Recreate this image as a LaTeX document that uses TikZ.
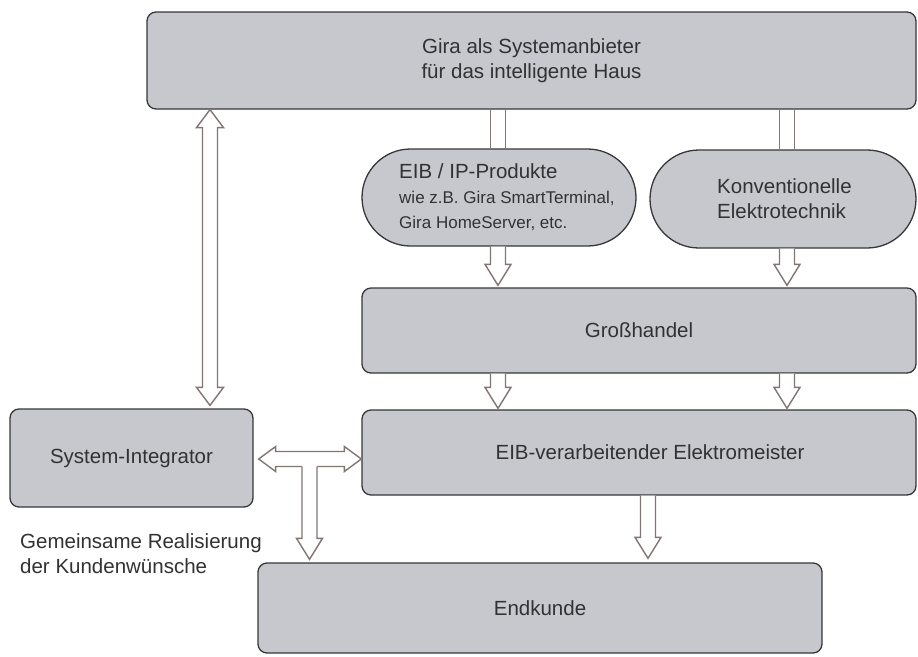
\documentclass[tikz,border=0pt]{standalone}
\usepackage{fontspec}
\setmainfont{Liberation Sans}
\usetikzlibrary{shapes.misc,calc}
\definecolor{boxfill}{RGB}{198,200,205}
\definecolor{boxline}{RGB}{55,55,58}
\definecolor{arrline}{RGB}{128,118,115}
\definecolor{txt}{RGB}{50,50,52}
\newcommand\mainsz{\fontsize{20.5}{25}\selectfont}
\newcommand\smallsz{\fontsize{17}{20}\selectfont}
% hollow down arrow: #1 start (top), #2 tip (bottom)
\newcommand\arrdown[2]{%
  \filldraw[harrow] ([xshift=-7.5pt]#1) -- ([xshift=-7.5pt,yshift=21pt]#2) -- ([xshift=-13pt,yshift=21pt]#2) -- (#2) -- ([xshift=13pt,yshift=21pt]#2) -- ([xshift=7.5pt,yshift=21pt]#2) -- ([xshift=7.5pt]#1);}
\newcommand\shaftonly[2]{%
  \draw[harrow] ([xshift=-7.5pt]#1) -- ([xshift=-7.5pt]#2) ([xshift=7.5pt]#1) -- ([xshift=7.5pt]#2);}
\begin{document}
\begin{tikzpicture}[x=1pt,y=-1pt,
  box/.style={draw=boxline,fill=boxfill,line width=1.3pt,rounded corners=9pt,inner sep=0pt,text=txt,font=\mainsz,align=center},
  pill/.style={rounded rectangle,draw=boxline,fill=boxfill,line width=1.3pt,inner sep=0pt},
  lbl/.style={inner sep=0pt,text=txt,font=\mainsz,align=left},
  harrow/.style={draw=arrline,fill=white,line width=1.4pt,line join=miter}]
\useasboundingbox (0,0) rectangle (918,656);

% boxes
\node[box,minimum width=769pt,minimum height=97pt] (T) at (531.5,60.5) {Gira als Systemanbieter\\für das intelligente Haus};
\node[pill,minimum width=274pt,minimum height=97pt] (P1) at (499,197.5) {};
\node[lbl,anchor=west] (P1t) at (399,197.5) {EIB / IP-Produkte\\{\smallsz wie z.B. Gira SmartTerminal,}\\{\smallsz Gira HomeServer, etc.}};
\node[pill,minimum width=266pt,minimum height=98pt] (P2) at (783,199) {};
\node[lbl,anchor=west] (P2t) at (717,199) {Konventionelle\\Elektrotechnik};
\node[box,minimum width=554pt,minimum height=85pt] (G) at (639,330.5) {Großhandel};
\node[box,minimum width=554pt,minimum height=85pt] (E) at (639,452.5) {};
\node[lbl] (Et) at (650,452.5) {EIB-verarbeitender Elektromeister};
\node[box,minimum width=243pt,minimum height=98pt] (S) at (131.5,458) {System-Integrator};
\node[box,minimum width=564pt,minimum height=90pt] (K) at (540,608) {Endkunde};
\node[lbl,anchor=north west] (note) at (20,533) {Gemeinsame Realisierung\\der Kundenwünsche};

% reference x positions
\coordinate (xl) at (498,0);
\coordinate (xr) at (787,0);
\coordinate (xk) at (648,0);
\coordinate (xs) at (210,0);

% shafts top box -> pills
\coordinate (a1s) at (xl |- T.south);
\coordinate (a1e) at (xl |- P1.north);
\shaftonly{a1s}{a1e}
\coordinate (a2s) at (xr |- T.south);
\coordinate (a2e) at (xr |- P2.north);
\shaftonly{a2s}{a2e}

% pills -> Grosshandel
\coordinate (a3s) at (xl |- P1.south);
\coordinate (a3e0) at (xl |- G.north);
\coordinate (a3e) at ([yshift=2pt]a3e0);
\arrdown{a3s}{a3e}
\coordinate (a4s) at (xr |- P2.south);
\coordinate (a4e0) at (xr |- G.north);
\coordinate (a4e) at ([yshift=2pt]a4e0);
\arrdown{a4s}{a4e}

% Grosshandel -> Elektromeister
\coordinate (a5s) at (xl |- G.south);
\coordinate (a5e0) at (xl |- E.north);
\coordinate (a5e) at ([yshift=1pt]a5e0);
\arrdown{a5s}{a5e}
\coordinate (a6s) at (xr |- G.south);
\coordinate (a6e0) at (xr |- E.north);
\coordinate (a6e) at ([yshift=1pt]a6e0);
\arrdown{a6s}{a6e}

% Elektromeister -> Endkunde
\coordinate (a7s) at (xk |- E.south);
\coordinate (a7e0) at (xk |- K.north);
\coordinate (a7e) at ([yshift=4pt]a7e0);
\arrdown{a7s}{a7e}

% double vertical: top box <-> System-Integrator
\coordinate (vt) at (xs |- T.south);
\coordinate (vb0) at (xs |- S.north);
\coordinate (vb) at ([yshift=3pt]vb0);
\filldraw[harrow] (vt) -- ([xshift=13.5pt,yshift=-18pt]vt) -- ([xshift=7.5pt,yshift=-18pt]vt)
  -- ([xshift=7.5pt,yshift=18pt]vb) -- ([xshift=13.5pt,yshift=18pt]vb) -- (vb)
  -- ([xshift=-13.5pt,yshift=18pt]vb) -- ([xshift=-7.5pt,yshift=18pt]vb)
  -- ([xshift=-7.5pt,yshift=-18pt]vt) -- ([xshift=-13.5pt,yshift=-18pt]vt) -- cycle;

% double horizontal: System-Integrator <-> Elektromeister
\coordinate (hl) at ([xshift=5pt,yshift=-1pt]S.east);
\coordinate (hr) at (hl -| E.west);
\filldraw[harrow] (hl) -- ([xshift=17pt,yshift=12.5pt]hl) -- ([xshift=17pt,yshift=7.5pt]hl)
  -- ([xshift=-17pt,yshift=7.5pt]hr) -- ([xshift=-17pt,yshift=12.5pt]hr) -- (hr)
  -- ([xshift=-17pt,yshift=-12.5pt]hr) -- ([xshift=-17pt,yshift=-7.5pt]hr)
  -- ([xshift=17pt,yshift=-7.5pt]hl) -- ([xshift=17pt,yshift=-12.5pt]hl) -- cycle;

% branch down to Endkunde
\coordinate (xj) at (309.5,0);
\coordinate (j) at (xj |- hl);
\coordinate (jb) at ([yshift=-7.5pt]j);
\coordinate (je0) at (xj |- K.north);
\coordinate (je) at ([yshift=3pt]je0);
\fill[white] ([xshift=-7.5pt]j) -- ([xshift=-7.5pt,yshift=21pt]je) -- ([xshift=-13pt,yshift=21pt]je) -- (je) -- ([xshift=13pt,yshift=21pt]je) -- ([xshift=7.5pt,yshift=21pt]je) -- ([xshift=7.5pt]j) -- cycle;
\draw[harrow,fill=none] ([xshift=-7.5pt]jb) -- ([xshift=-7.5pt,yshift=21pt]je) -- ([xshift=-13pt,yshift=21pt]je) -- (je) -- ([xshift=13pt,yshift=21pt]je) -- ([xshift=7.5pt,yshift=21pt]je) -- ([xshift=7.5pt]jb);
\end{tikzpicture}
\end{document}
